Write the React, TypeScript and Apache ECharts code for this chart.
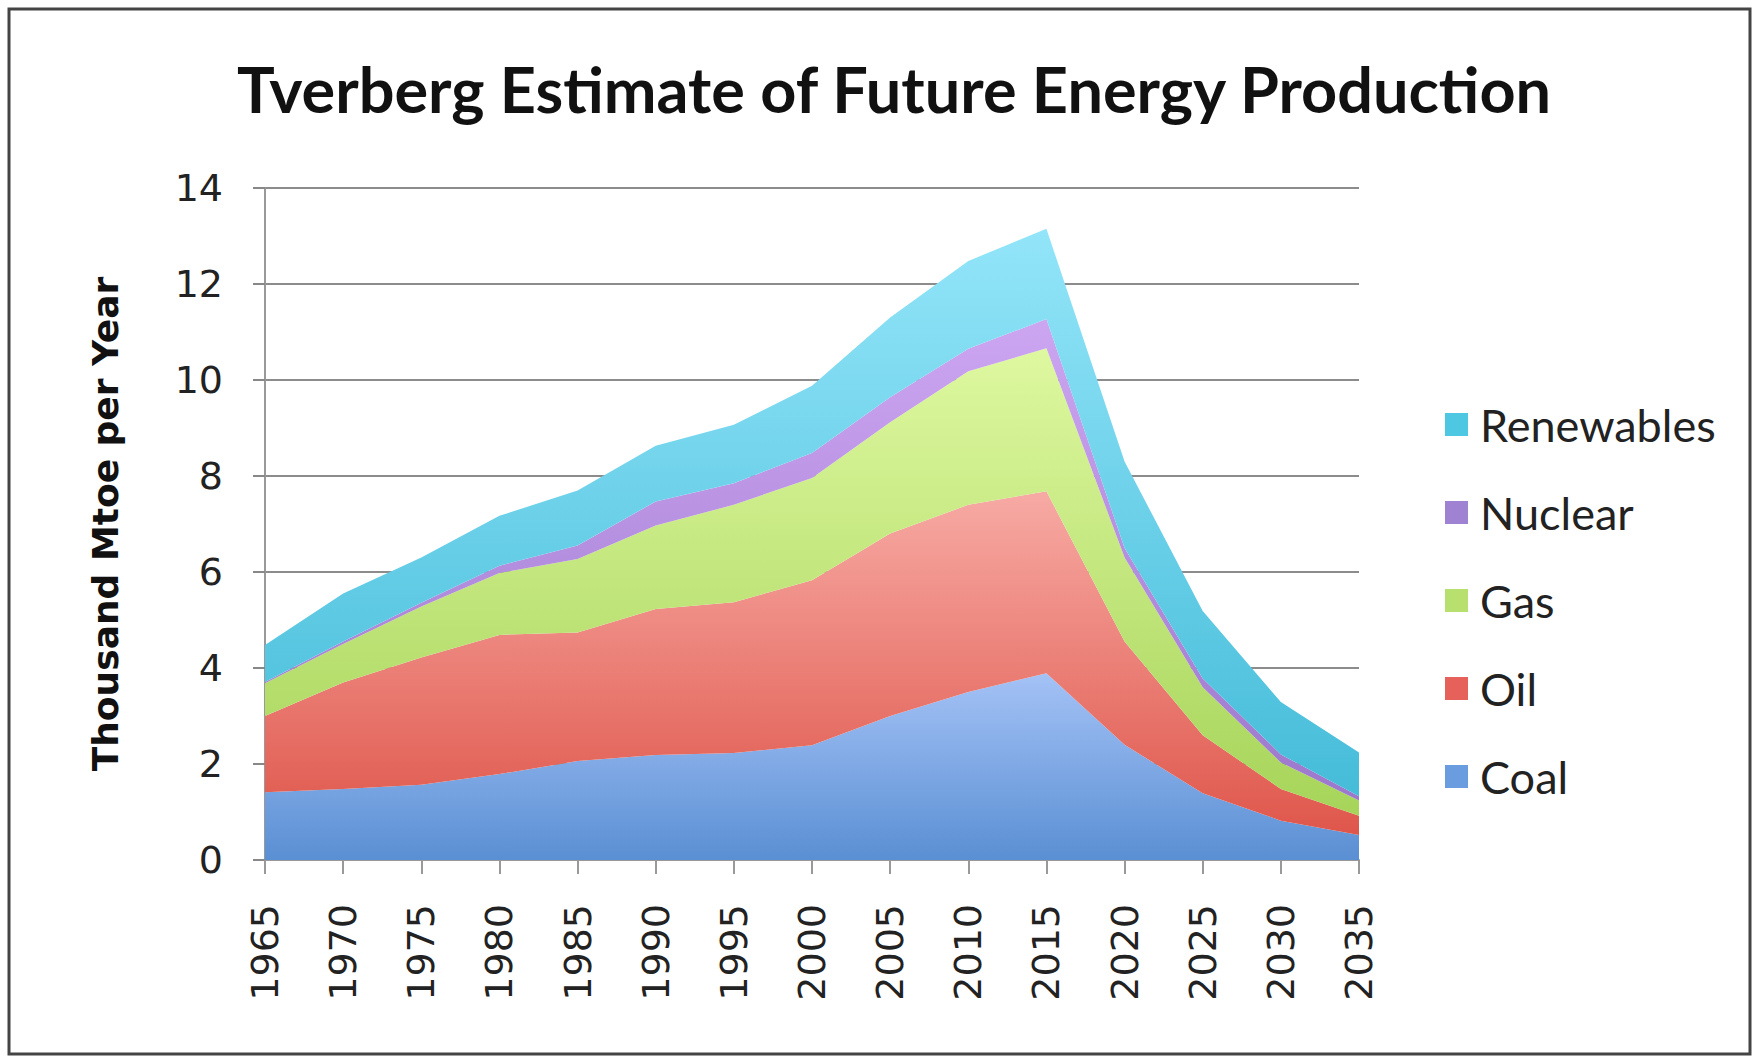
import React, { useEffect, useRef } from "react";
import * as echarts from "echarts";

const years = ["1965","1970","1975","1980","1985","1990","1995","2000","2005","2010","2015","2020","2025","2030","2035"];
const coal = [1.41,1.48,1.57,1.79,2.06,2.19,2.23,2.39,3.0,3.5,3.89,2.4,1.39,0.82,0.52];
const oil = [1.59,2.22,2.65,2.9,2.68,3.04,3.14,3.44,3.8,3.9,3.79,2.15,1.21,0.66,0.4];
const gas = [0.68,0.8,1.06,1.29,1.53,1.74,2.03,2.13,2.32,2.78,2.98,1.75,1.0,0.55,0.32];
const nuclear = [0.03,0.05,0.08,0.15,0.28,0.5,0.45,0.52,0.52,0.47,0.61,0.2,0.18,0.17,0.09];
const renewables = [0.77,1.0,0.94,1.04,1.15,1.16,1.22,1.4,1.66,1.83,1.88,1.8,1.41,1.09,0.91];
const yTicks = [0, 2, 4, 6, 8, 10, 12, 14];
const legendOrder = ["Renewables", "Nuclear", "Gas", "Oil", "Coal"];

export default function App() {
  const ref = useRef<HTMLDivElement>(null);
  useEffect(() => {
    document.body.style.margin = "0";
    const chart = echarts.init(ref.current!, null, { renderer: "svg" });
    const grad = (top: string, bottom: string) =>
      new echarts.graphic.LinearGradient(0, 0, 0, 1, [
        { offset: 0, color: top },
        { offset: 1, color: bottom },
      ]);
    const mk = (name: string, data: number[], solid: string, top: string, bottom: string) => ({
      name,
      type: "line",
      stack: "total",
      data,
      symbol: "none",
      showSymbol: false,
      lineStyle: { width: 0, color: solid },
      itemStyle: { color: solid },
      areaStyle: { color: grad(top, bottom), opacity: 1 },
    });
    chart.setOption({
      animation: false,
      backgroundColor: "#ffffff",
      title: {
        text: "Tverberg Estimate of Future Energy Production",
        left: 889,
        textAlign: "center",
        top: 52,
        textStyle: { fontFamily: "Lato", fontWeight: "bold", fontSize: 63, color: "#111" },
      },
      graphic: [
        {
          type: "rect",
          shape: { x: 9, y: 9, width: 1741, height: 1045 },
          style: { fill: "none", stroke: "#444", lineWidth: 3 },
          silent: true,
        },
      ],
      legend: {
        orient: "vertical",
        left: 1440,
        top: 397,
        icon: "rect",
        itemWidth: 23,
        itemHeight: 23,
        itemGap: 43,
        data: legendOrder,
        textStyle: { fontFamily: "Lato", fontSize: 45, color: "#222", padding: [0, 0, 0, 7] },
      },
      grid: { left: 265, right: 394, top: 188, bottom: 197, containLabel: false },
      xAxis: {
        type: "category",
        data: years,
        boundaryGap: false,
        axisLine: { show: true, lineStyle: { color: "#999", width: 2 } },
        axisTick: { show: true, alignWithLabel: true, length: 14, lineStyle: { color: "#999", width: 2 } },
        axisLabel: { rotate: 90, margin: 44, fontFamily: "DejaVu Sans", fontSize: 38, color: "#222", interval: 0 },
        splitLine: { show: false },
      },
      yAxis: {
        type: "value",
        min: yTicks[0],
        max: yTicks[yTicks.length - 1],
        interval: 2,
        name: "Thousand Mtoe per Year",
        nameLocation: "middle",
        nameGap: 142,
        nameTextStyle: { fontFamily: "DejaVu Sans", fontWeight: "bold", fontSize: 36, color: "#111" },
        axisLine: { show: true, lineStyle: { color: "#999", width: 2 } },
        axisTick: { show: true, length: 12, lineStyle: { color: "#888", width: 2 } },
        axisLabel: { margin: 42, fontFamily: "DejaVu Sans", fontSize: 38, color: "#222" },
        splitLine: { show: true, lineStyle: { color: "#8c8c8c", width: 2 } },
      },
      series: [
        mk("Coal", coal, "#6a9de0", "#a4c2f6", "#5a8fd3"),
        mk("Oil", oil, "#e5615a", "#f7aaa4", "#df564b"),
        mk("Gas", gas, "#b7e06e", "#def8a0", "#a6d459"),
        mk("Nuclear", nuclear, "#9f82d2", "#cda6f2", "#9c78cc"),
        mk("Renewables", renewables, "#4ec7e3", "#93e5f9", "#45bcd9"),
      ],
    });
    return () => chart.dispose();
  }, []);
  return <div ref={ref} style={{ width: 1753, height: 1057 }} />;
}
